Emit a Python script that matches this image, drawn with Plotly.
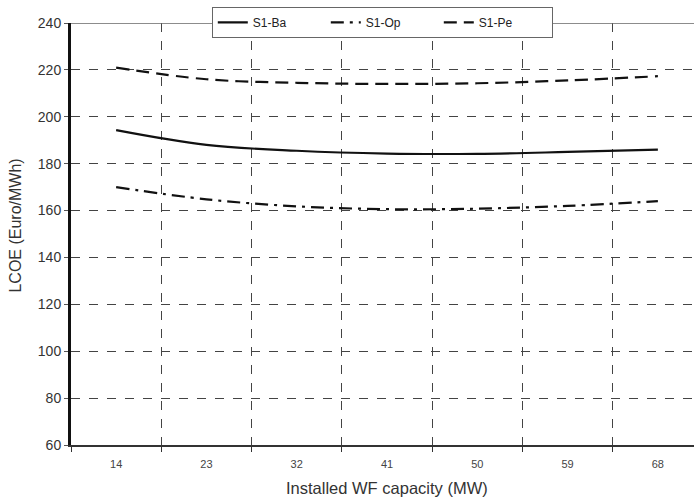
import plotly.graph_objects as go

categories = ["14", "23", "32", "41", "50", "59", "68"]
s1_ba = [194.3, 188.0, 185.5, 184.3, 184.2, 185.0, 186.0]
s1_op = [170.0, 164.8, 161.8, 160.6, 160.8, 162.0, 164.0]
s1_pe = [221.0, 216.0, 214.5, 214.0, 214.3, 215.5, 217.3]

FONT = "Arial, Liberation Sans, sans-serif"

fig = go.Figure()
fig.add_trace(go.Scatter(x=categories, y=s1_ba, name="S1-Ba", mode="lines",
                         line=dict(color="#111111", width=2.2, shape="spline")))
fig.add_trace(go.Scatter(x=categories, y=s1_op, name="S1-Op", mode="lines",
                         line=dict(color="#111111", width=2.2, shape="spline",
                                   dash="13px,6px,3px,6px")))
fig.add_trace(go.Scatter(x=categories, y=s1_pe, name="S1-Pe", mode="lines",
                         line=dict(color="#111111", width=2.2, shape="spline",
                                   dash="13px,7px")))

fig.update_layout(
    width=694, height=502,
    margin=dict(l=71, r=0, t=23, b=57, autoexpand=False),
    paper_bgcolor="white", plot_bgcolor="white",
    font=dict(family=FONT, color="#333333"),
    legend=dict(orientation="h", x=0.226, y=1.038, xanchor="left", yanchor="top",
                bgcolor="white", bordercolor="#666666", borderwidth=1,
                font=dict(size=12, color="#222222"), entrywidth=68,
                itemwidth=30, tracegroupgap=0),
    showlegend=True,
)
fig.update_xaxes(
    type="category", range=[-0.5, 6.4], tickson="boundaries", automargin=False,
    showgrid=True, gridcolor="#444444", griddash="dash", gridwidth=1,
    showline=True, linecolor="#333333", linewidth=2,
    ticks="outside", ticklen=5, tickcolor="#333333", ticklabelstandoff=8,
    tickfont=dict(size=11, color="#444444"),
    zeroline=False,
)
fig.update_yaxes(
    range=[60, 240], dtick=20, automargin=False,
    showgrid=True, gridcolor="#444444", griddash="dash", gridwidth=1,
    showline=True, linecolor="#111111", linewidth=3,
    ticks="outside", ticklen=4, tickcolor="#555555",
    tickfont=dict(size=14, color="#333333"),
    zeroline=False,
)
fig.add_annotation(text="Installed WF capacity (MW)", xref="paper", yref="paper",
                   x=0.507, y=-0.102, xanchor="center", yanchor="middle",
                   showarrow=False, font=dict(size=16.5, color="#333333"))
fig.add_annotation(text="LCOE (Euro/MWh)", xref="paper", yref="paper",
                   x=-0.0883, y=0.52, xanchor="center", yanchor="middle",
                   textangle=-90, showarrow=False, font=dict(size=16, color="#333333"))
fig.add_shape(type="line", xref="paper", yref="y", x0=0, x1=1, y0=240, y1=240,
              line=dict(color="#666666", width=1.5))

fig.write_html("out.html", config={"displayModeBar": False},
               post_script="document.body.style.margin='0';")
